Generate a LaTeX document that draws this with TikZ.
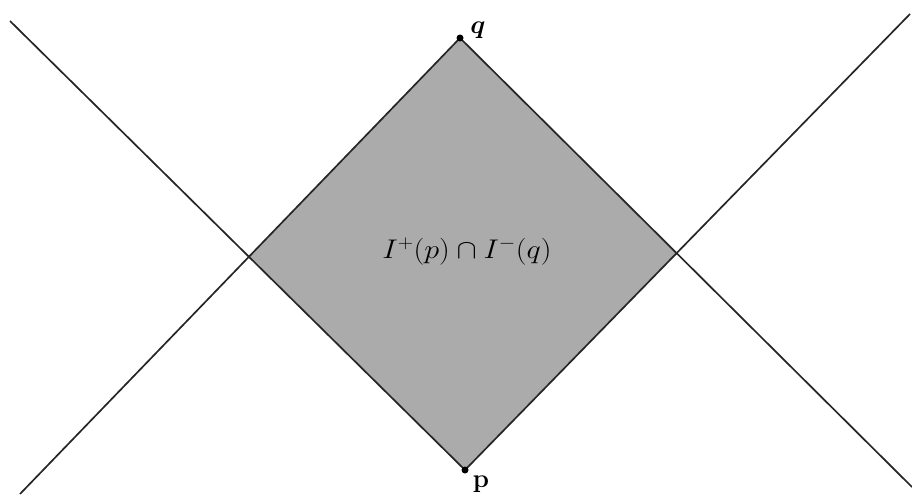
\RequirePackage{fix-cm}
\documentclass[tikz,border=0pt]{standalone}
\usepackage{amsmath}
\usepackage{bm}
\usepackage{graphicx}
\begin{document}
\begin{tikzpicture}[x=1pt,y=-1pt,
  cone/.style={line width=1.7pt, black!85},
  vtx/.style={circle, fill=black, inner sep=0pt, minimum size=7pt},
  lbl/.style={inner sep=0pt, font=\fontsize{26}{30}\selectfont}]
\useasboundingbox (0,0) rectangle (912,495);
\coordinate (tl) at (10,21);
\coordinate (bl) at (20,494);
\coordinate (tr) at (910,14);
\coordinate (br) at (912,487);
\coordinate (q) at (460,38);
\coordinate (p) at (465,470);
\coordinate (L) at (intersection of tl--p and bl--q);
\coordinate (R) at (intersection of q--br and p--tr);
\fill[black!33] (q) -- (L) -- (p) -- (R) -- cycle;
\draw[cone] (tl) -- (p);
\draw[cone] (bl) -- (q);
\draw[cone] (q) -- (br);
\draw[cone] (p) -- (tr);
\node[vtx] (qd) at (q) {};
\node[vtx] (pd) at (p) {};
\node[lbl] (ql) at (478,30) {$\bm{q}$};
\node[lbl] (pl) at (481,484) {\textbf{p}};
\node[font=\fontsize{27}{32}\selectfont] (lab) at (467,251) {\scalebox{1.12}[1]{$I^{+}(p)\cap I^{-}(q)$}};
\end{tikzpicture}
\end{document}
